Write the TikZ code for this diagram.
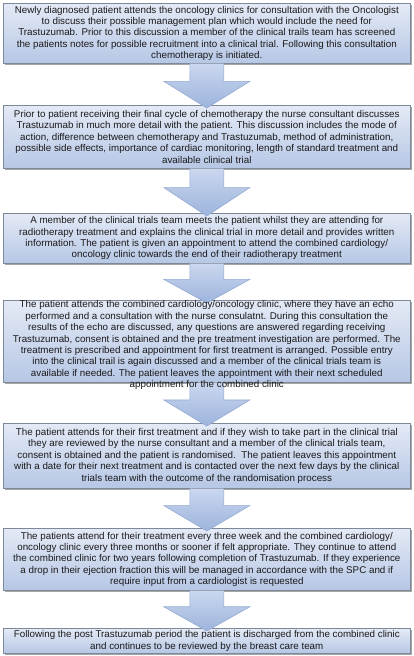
\documentclass[tikz,border=0pt]{standalone}
\usepackage{fontspec}
\setmainfont{Liberation Sans}
\usetikzlibrary{shadows,calc}
\definecolor{boxtop}{HTML}{E4EAF6}
\definecolor{boxbot}{HTML}{B6C7E5}
\definecolor{boxedge}{HTML}{7D8898}
\definecolor{arrtop}{HTML}{CAD7EF}
\definecolor{arrbot}{HTML}{9DB4DC}
\definecolor{arredge}{HTML}{93AAD2}
\definecolor{txt}{HTML}{1A1A1A}
\newcommand\flowarrow[2]{%
  \coordinate (#1#2tip) at ($(#2.north)+(0,3)$);
  \coordinate (#1#2base) at ($(#1.south)!0.4!(#1#2tip)$);
  \shade[top color=arrtop,bottom color=arrbot]
    ($(#1.south)+(-17,0)$) -- ($(#1#2base)+(-17,0)$) -- ($(#1#2base)+(-43,0)$)
    -- (#1#2tip) -- ($(#1#2base)+(43,0)$) -- ($(#1#2base)+(17,0)$)
    -- ($(#1.south)+(17,0)$) -- cycle;
  \draw[draw=arredge,line width=0.6pt,line join=miter]
    ($(#1.south)+(-17,0)$) -- ($(#1#2base)+(-17,0)$) -- ($(#1#2base)+(-43,0)$)
    -- (#1#2tip) -- ($(#1#2base)+(43,0)$) -- ($(#1#2base)+(17,0)$)
    -- ($(#1.south)+(17,0)$);
}
\begin{document}
\begin{tikzpicture}[x=1pt,y=-1pt,
  box/.style={draw=boxedge, line width=0.6pt, top color=boxtop, bottom color=boxbot,
    minimum width=407pt, anchor=north west, inner sep=0pt,
    drop shadow={shadow xshift=1.5pt, shadow yshift=-1.5pt, fill=black, opacity=0.35}},
  txtnode/.style={align=center, font=\fontsize{9.8}{11.4}\selectfont, text=txt, inner sep=0pt}]
\useasboundingbox (0,0) rectangle (414,656);
\fill[white] (0,0) rectangle (414,656);

\node[box, minimum height=60pt] (b1) at (3,3) {};
\node[box, minimum height=63pt] (b2) at (3,105) {};
\node[box, minimum height=50pt] (b3) at (3,213) {};
\node[box, minimum height=82pt] (b4) at (3,300) {};
\node[box, minimum height=65pt] (b5) at (3,423) {};
\node[box, minimum height=62pt] (b6) at (3,528) {};
\node[box, minimum height=25pt] (b7) at (3,628) {};

\flowarrow{b1}{b2}
\flowarrow{b2}{b3}
\flowarrow{b3}{b4}
\flowarrow{b4}{b5}
\flowarrow{b5}{b6}
\flowarrow{b6}{b7}

\node[txtnode] (t1) at (b1.center) {Newly diagnosed patient attends the oncology clinics for consultation with the Oncologist\\
to discuss their possible management plan which would include the need for\\
Trastuzumab. Prior to this discussion a member of the clinical trails team has screened\\
the patients notes for possible recruitment into a clinical trial. Following this consultation\\
chemotherapy is initiated.};

\node[txtnode] (t2) at (b2.center) {Prior to patient receiving their final cycle of chemotherapy the nurse consultant discusses\\
Trastuzumab in much more detail with the patient. This discussion includes the mode of\\
action, difference between chemotherapy and Trastuzumab, method of administration,\\
possible side effects, importance of cardiac monitoring, length of standard treatment and\\
available clinical trial};

\node[txtnode] (t3) at (b3.center) {A member of the clinical trials team meets the patient whilst they are attending for\\
radiotherapy treatment and explains the clinical trial in more detail and provides written\\
information. The patient is given an appointment to attend the combined cardiology/\\
oncology clinic towards the end of their radiotherapy treatment};

\node[txtnode, anchor=north] (t4) at ($(b4.north)+(0,0.5)$) {The patient attends the combined cardiology/oncology clinic, where they have an echo\\
performed and a consultation with the nurse consulatnt. During this consultation the\\
results of the echo are discussed, any questions are answered regarding receiving\\
Trastuzumab, consent is obtained and the pre treatment investigation are performed. The\\
treatment is prescribed and appointment for first treatment is arranged. Possible entry\\
into the clinical trail is again discussed and a member of the clinical trials team is\\
available if needed. The patient leaves the appointment with their next scheduled\\
appointment for the combined clinic};

\node[txtnode] (t5) at (b5.center) {The patient attends for their first treatment and if they wish to take part in the clinical trial\\
they are reviewed by the nurse consultant and a member of the clinical trials team,\\
consent is obtained and the patient is randomised.\ \ The patient leaves this appointment\\
with a date for their next treatment and is contacted over the next few days by the clinical\\
trials team with the outcome of the randomisation process};

\node[txtnode] (t6) at (b6.center) {The patients attend for their treatment every three week and the combined cardiology/\\
oncology clinic every three months or sooner if felt appropriate. They continue to attend\\
the combined clinic for two years following completion of Trastuzumab. If they experience\\
a drop in their ejection fraction this will be managed in accordance with the SPC and if\\
require input from a cardiologist is requested};

\node[txtnode] (t7) at (b7.center) {Following the post Trastuzumab period the patient is discharged from the combined clinic\\
and continues to be reviewed by the breast care team};
\end{tikzpicture}
\end{document}
